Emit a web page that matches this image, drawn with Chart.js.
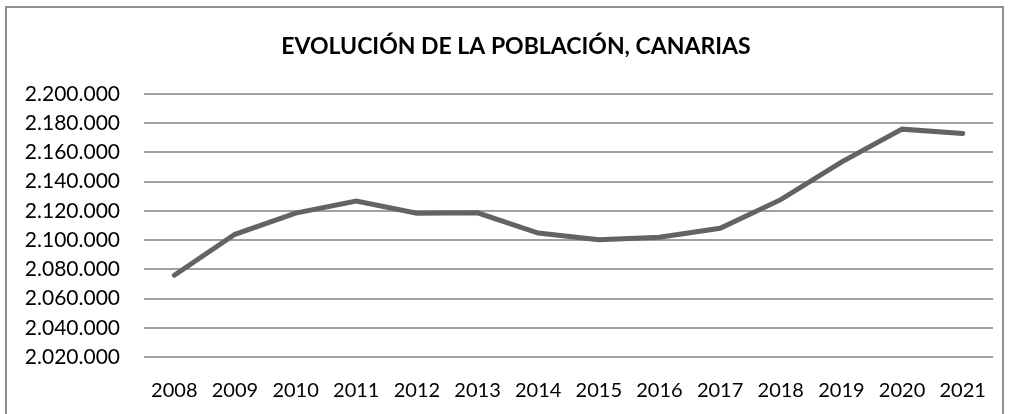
<!DOCTYPE html>
<html>
<head>
<meta charset="utf-8">
<script src="https://cdn.jsdelivr.net/npm/chart.js@4/dist/chart.umd.min.js"></script>
<style>
  html, body { margin: 0; padding: 0; background: #fff; }
  #wrap { position: relative; width: 1009px; height: 414px; }
  #frame { position: absolute; left: 5px; top: 6px; width: 999px; height: 420px; border: 2px solid #8f8f8f; box-sizing: border-box; }
  canvas { position: absolute; left: 0; top: 0; }
</style>
</head>
<body>
<div id="wrap">
  <div id="frame"></div>
  <canvas id="popChart" width="1009" height="414"></canvas>
</div>
<script>
// Evolución de la población, Canarias
const chartTitle = "EVOLUCIÓN DE LA POBLACIÓN, CANARIAS";
const years = ["2008", "2009", "2010", "2011", "2012", "2013", "2014", "2015", "2016", "2017", "2018", "2019", "2020", "2021"];
const population = [2075968, 2103992, 2118519, 2126769, 2118344, 2118679, 2104815, 2100306, 2101924, 2108121, 2127685, 2153389, 2175952, 2172944];
const yMin = 2020000;
const yMax = 2200000;
const yStep = 20000;

const fmt = (v) => v.toLocaleString("de-DE");

// title sits a bit right of the canvas centre, like the original sheet
const titlePlugin = {
  id: "sheetTitle",
  afterDraw(chart) {
    const c = chart.ctx;
    c.save();
    c.font = "bold 23px Lato";
    c.fillStyle = "#000";
    c.textAlign = "center";
    c.textBaseline = "middle";
    c.fillText(chartTitle, 516, 47);
    c.restore();
  },
};

const ctx = document.getElementById("popChart").getContext("2d");

new Chart(ctx, {
  type: "line",
  data: {
    labels: years,
    datasets: [
      {
        data: population,
        borderColor: "#636363",
        borderWidth: 5,
        borderCapStyle: "round",
        borderJoinStyle: "miter",
        pointRadius: 0,
        tension: 0,
        fill: false,
      },
    ],
  },
  plugins: [titlePlugin],
  options: {
    responsive: false,
    animation: false,
    layout: { padding: { left: 0, right: 16, top: 94, bottom: 0 } },
    plugins: {
      legend: { display: false },
      tooltip: { enabled: false },
      title: { display: false },
    },
    scales: {
      x: {
        offset: true,
        grid: { display: false, drawTicks: false },
        border: { display: false },
        ticks: {
          color: "#000",
          padding: 22,
          maxRotation: 0,
          autoSkip: false,
          font: { family: "Lato", size: 20 },
        },
        afterFit: (s) => { s.height = 57; },
      },
      y: {
        min: yMin,
        max: yMax,
        grid: { color: "#a0a0a0", lineWidth: 2, drawTicks: false },
        border: { display: false },
        ticks: {
          stepSize: yStep,
          color: "#000",
          padding: 24,
          font: { family: "Lato", size: 21 },
          callback: (v) => fmt(v),
        },
        afterFit: (s) => { s.width = 144; },
      },
    },
  },
});
</script>
</body>
</html>
